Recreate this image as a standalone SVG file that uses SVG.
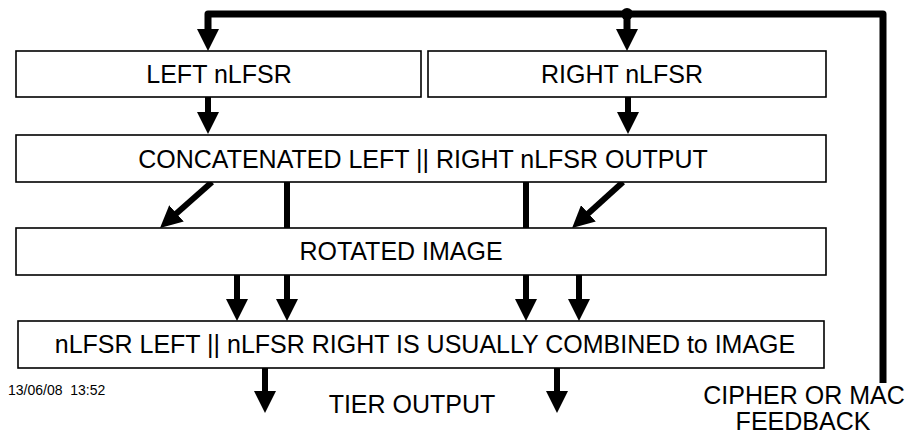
<svg xmlns="http://www.w3.org/2000/svg" width="906" height="437" viewBox="0 0 906 437">
<style>
.box{fill:#fff;stroke:#000;stroke-width:1.6}
.lbl{font-family:"Liberation Sans",Arial,sans-serif;font-size:25px;fill:#000;text-anchor:middle}
.ts{font-family:"Liberation Sans",Arial,sans-serif;font-size:14px;fill:#000;white-space:pre}
.ln{fill:none;stroke:#000;stroke-width:6}
.fb{fill:none;stroke:#000;stroke-width:7;stroke-linejoin:round}
.arr{marker-end:url(#ah)}
</style>
<defs>
<marker id="ah" viewBox="0 0 22 22" refX="10" refY="11" markerWidth="22" markerHeight="22" markerUnits="userSpaceOnUse" orient="auto">
<path d="M0,0 L22,11 L0,22 z" fill="#000"/>
</marker>
</defs>
<rect width="906" height="437" fill="#fff"/>
<g id="connectors">
<path class="fb arr" d="M883,383 L883,14 L208,14 L208,39"/>
<circle cx="627" cy="14" r="6" fill="#000"/>
<path class="fb arr" d="M627,14 L627,39"/>
<path class="ln arr" d="M208,97 L208,122"/>
<path class="ln arr" d="M628,97 L628,122"/>
<path class="ln arr" d="M212,182 L169,220"/>
<path class="ln arr" d="M623,182 L581,220"/>
<path class="ln" d="M287,182 L287,228"/>
<path class="ln" d="M526,182 L526,228"/>
<path class="ln arr" d="M237,275 L237,309"/>
<path class="ln arr" d="M287,275 L287,309"/>
<path class="ln arr" d="M526,275 L526,309"/>
<path class="ln arr" d="M579,275 L579,309"/>
<path class="ln arr" d="M265,368 L265,401"/>
<path class="ln arr" d="M557,368 L557,401"/>
</g>
<g id="left-nlfsr">
<rect class="box" x="16" y="51" width="405" height="46"/>
<text class="lbl" x="219" y="83">LEFT nLFSR</text>
</g>
<g id="right-nlfsr">
<rect class="box" x="428" y="51" width="398" height="46"/>
<text class="lbl" x="622" y="83">RIGHT nLFSR</text>
</g>
<g id="concatenated">
<rect class="box" x="16" y="135" width="810" height="47"/>
<text class="lbl" x="423" y="168">CONCATENATED LEFT || RIGHT nLFSR OUTPUT</text>
</g>
<g id="rotated">
<rect class="box" x="16" y="228" width="810" height="47"/>
<text class="lbl" x="401" y="260">ROTATED IMAGE</text>
</g>
<g id="combined">
<rect class="box" x="18" y="321" width="806" height="47"/>
<text class="lbl" x="425" y="353">nLFSR LEFT || nLFSR RIGHT IS USUALLY COMBINED to IMAGE</text>
</g>
<g id="tier-output">
<text class="lbl" x="412" y="413">TIER OUTPUT</text>
</g>
<g id="feedback">
<text class="lbl" x="804" y="404">CIPHER OR MAC</text>
<text class="lbl" x="803" y="430">FEEDBACK</text>
</g>
<g id="timestamp">
<text class="ts" x="8" y="395">13/06/08  13:52</text>
</g>
</svg>
